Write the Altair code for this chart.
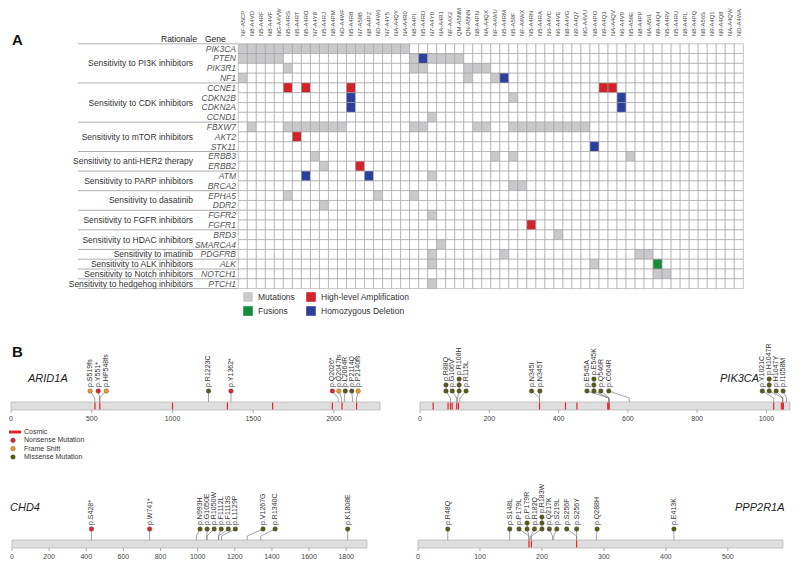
import altair as alt
import pandas as pd

FONT = "Liberation Sans"

# ---------------- Panel A data ----------------
samples = ["NF-A5CP", "N8-A4VD", "N5-A4RF", "N8-A4VF", "NG-A4VW", "N5-A4RS", "N5-A4RT", "N5-A4RO",
           "N7-A4Y8", "N5-A4RJ", "N8-A4PM", "ND-A4WF", "N5-A4R8", "N7-A59B", "N8-A4PZ", "ND-A4W6",
           "N7-A4Y5", "NA-A4QY", "NA-A4R0", "N8-A4PI", "N5-A4RD", "N7-A4Y0", "NA-A4R1", "NF-A4X2",
           "QM-A5NM", "QN-A5NN", "N8-A4PN", "NA-A4QX", "NF-A4WU", "N5-A4RM", "N5-A59F", "NF-A4WX",
           "N5-A4RN", "N5-A4RA", "N6-A4VC", "N6-A4VE", "N8-A4VG", "N9-A4Q7", "NG-A4VU", "N8-A4PO",
           "N9-A4Q3", "NA-A4QV", "N6-A4V9", "N5-A59E", "N8-A4PP", "NA-A5I1", "N9-A4Q4", "N5-A4RV",
           "N5-A4RU", "N8-A4PL", "N8-A4PQ", "N8-A56S", "N9-A4Q1", "N9-A4Q8", "NA-A4QW", "ND-A4WA"]

genes = ["PIK3CA", "PTEN", "PIK3R1", "NF1", "CCNE1", "CDKN2B", "CDKN2A", "CCND1", "FBXW7", "AKT2",
         "STK11", "ERBB3", "ERBB2", "ATM", "BRCA2", "EPHA5", "DDR2", "FGFR2", "FGFR1", "BRD3",
         "SMARCA4", "PDGFRB", "ALK", "NOTCH1", "PTCH1"]

rationale_labels = ["Sensitivity to PI3K inhibitors", "Sensitivity to CDK inhibitors",
                    "Sensitivity to mTOR inhibitors", "Sensitivity to anti-HER2 therapy",
                    "Sensitivity to PARP inhibitors", "Sensitivity to dasatinib",
                    "Sensitivity to FGFR inhibitors", "Sensitivity to HDAC inhibitors",
                    "Sensitivity to imatinib", "Sensitivity to  ALK inhibitors",
                    "Sensitivity to Notch inhibitors", "Sensitivity to hedgehog inhibitors"]
rationale_sizes = [4, 4, 3, 2, 2, 2, 2, 2, 1, 1, 1, 1]

# column indices (0-based into samples) per gene and alteration
mutation_cols = {
    "PIK3CA": [0, 1, 2, 3, 4, 5, 6, 7, 8, 9, 10, 11, 12, 13, 14, 15, 16, 17, 18],
    "PTEN": [0, 1, 2, 3, 4, 19, 21, 22, 23, 24],
    "PIK3R1": [5, 19, 20, 25, 26, 27],
    "NF1": [0, 25, 28],
    "CDKN2B": [30],
    "CCND1": [21],
    "FBXW7": [1, 5, 6, 7, 8, 9, 10, 11, 19, 20, 26, 27, 30, 31, 32, 33, 34, 35, 36, 37, 38],
    "ERBB3": [8, 28, 30, 43],
    "ERBB2": [9],
    "ATM": [21],
    "BRCA2": [30, 31],
    "EPHA5": [5, 15, 19],
    "DDR2": [9],
    "FGFR2": [21],
    "BRD3": [35],
    "SMARCA4": [22],
    "PDGFRB": [21, 29, 44, 45],
    "ALK": [21, 39],
    "NOTCH1": [46, 47],
    "PTCH1": [21],
}
amplification_cols = {"CCNE1": [5, 7, 12, 40, 41], "AKT2": [6], "ERBB2": [13], "FGFR1": [32]}
deletion_cols = {"PTEN": [20], "NF1": [29], "CDKN2B": [12, 42], "CDKN2A": [12, 42],
                 "STK11": [39], "ATM": [7, 14]}
fusion_cols = {"ALK": [46]}

alteration_types = ["None", "Mutations", "High-level Amplification", "Fusions", "Homozygous Deletion"]
alteration_colors = ["#ffffff", "#c9c9cb", "#d2232a", "#168a3d", "#2b3f9b"]
legend_names = ["Mutations", "High-level Amplification", "Fusions", "Homozygous Deletion"]
legend_col = [0, 1, 0, 1]
legend_row = [0, 0, 1, 1]

# ---------------- Panel B data ----------------
mut_types = ["Nonsense Mutation", "Frame Shift", "Missense Mutation"]
mut_colors = ["#d8282c", "#e39a2a", "#5a5a1e"]

arid1a_labels = ["p.S519fs", "p.Y551*", "p.HP548fs", "p.R1223C", "p.Y1362*", "p.Q2026*",
                 "p.Q2047fs", "p.L2064R", "p.P2114Q", "p.P2140fs"]
arid1a_pos = [519, 551, 548, 1223, 1362, 2026, 2047, 2064, 2114, 2140]
arid1a_disp = [490, 540, 590, 1223, 1362, 1990, 2030, 2070, 2110, 2150]
arid1a_type = ["Frame Shift", "Nonsense Mutation", "Frame Shift", "Missense Mutation",
               "Nonsense Mutation", "Nonsense Mutation", "Frame Shift", "Missense Mutation",
               "Missense Mutation", "Frame Shift"]
arid1a_count = [1, 1, 1, 1, 1, 1, 1, 1, 1, 1]
arid1a_cosmic = [520, 550, 1000, 1340, 1620, 1990, 2050, 2140]

pik3ca_labels = ["p.R88Q", "p.G106V", "p.R108H", "p.R115L", "p.N345I", "p.N345T", "p.E545A",
                 "p.E545K", "p.Q546R", "p.C604R", "p.Y1021C", "p.H1047R", "p.H1047Y", "p.I1058M"]
pik3ca_pos = [88, 106, 108, 115, 345, 345, 545, 545, 546, 604, 1021, 1047, 1047, 1058]
pik3ca_disp = [75, 93, 113, 133, 322, 346, 482, 502, 522, 545, 988, 1008, 1028, 1048]
pik3ca_type = ["Missense Mutation"] * 14
pik3ca_count = [2, 1, 3, 1, 1, 1, 1, 3, 1, 1, 1, 3, 1, 1]
pik3ca_cosmic = [38, 81, 88, 93, 106, 111, 345, 420, 453, 542, 545, 546, 1021, 1043, 1047, 1049]

chd4_labels = ["p.S428*", "p.W741*", "p.N993H", "p.G1050E", "p.R1050W", "p.F1112L",
               "p.F1113S", "p.L1129P", "p.V1267G", "p.R1340C", "p.K1808E"]
chd4_pos = [428, 741, 993, 1050, 1050, 1112, 1113, 1129, 1267, 1340, 1808]
chd4_disp = [428, 741, 1013, 1051, 1089, 1127, 1165, 1203, 1352, 1417, 1808]
chd4_type = ["Nonsense Mutation", "Nonsense Mutation"] + ["Missense Mutation"] * 9
chd4_count = [1] * 11
chd4_cosmic = []

ppp2r1a_labels = ["p.R48Q", "p.S148L", "p.P179L", "p.P179R", "p.R182Q", "p.R183W", "p.Q217K",
                  "p.S219L", "p.S256F", "p.S256Y", "p.Q288H", "p.E413K"]
ppp2r1a_pos = [48, 148, 179, 179, 182, 183, 217, 219, 256, 256, 288, 413]
ppp2r1a_disp = [48, 148, 163, 176, 188, 200, 212, 224, 240, 256, 289, 413]
ppp2r1a_type = ["Missense Mutation"] * 12
ppp2r1a_count = [1, 1, 1, 2, 1, 3, 1, 1, 1, 1, 1, 1]
ppp2r1a_cosmic = [179, 183, 256]

# ---------------- build panel A ----------------
OX, OY = 8, 8  # page margin -> chart coordinates
GX0, GX1 = 238.3 - OX, 743.3 - OX
GY0, GY1 = 43.8 - OY, 288.6 - OY

cells = []
for r, g in enumerate(genes):
    for c, s in enumerate(samples):
        t = "None"
        if c in mutation_cols.get(g, []):
            t = "Mutations"
        if c in amplification_cols.get(g, []):
            t = "High-level Amplification"
        if c in deletion_cols.get(g, []):
            t = "Homozygous Deletion"
        if c in fusion_cols.get(g, []):
            t = "Fusions"
        cells.append({"gene": g, "sample": s, "row": r, "col": c, "type": t})
cells_df = pd.DataFrame(cells)

xA = alt.Scale(domain=[0, len(samples)], range=[GX0, GX1], nice=False, zero=False)
yA = alt.Scale(domain=[0, len(genes)], range=[GY0, GY1], nice=False, zero=False)
fillA = alt.Scale(domain=alteration_types, range=alteration_colors)

grid = alt.Chart(cells_df).mark_rect(stroke="#a0a0a0", strokeWidth=0.6).transform_calculate(
    col2="datum.col + 1", row2="datum.row + 1"
).encode(
    x=alt.X("col:Q", scale=xA, axis=None),
    x2="col2:Q",
    y=alt.Y("row:Q", scale=yA, axis=None),
    y2="row2:Q",
    fill=alt.Fill("type:N", scale=fillA, legend=None),
)

samp_df = pd.DataFrame({"sample": samples, "col": list(range(len(samples)))})
samp_text = alt.Chart(samp_df).mark_text(angle=270, align="left", baseline="middle", fontSize=5.9,
                                         font=FONT, color="#444").transform_calculate(
    cx="datum.col + 0.5"
).encode(x=alt.X("cx:Q", scale=xA, axis=None), y=alt.value(36 - OY), text="sample:N")

gene_df = pd.DataFrame({"gene": genes, "row": list(range(len(genes)))})
gene_text = alt.Chart(gene_df).mark_text(align="right", baseline="middle", fontSize=8.5, font=FONT,
                                         fontStyle="italic", color="#555").transform_calculate(
    cy="datum.row + 0.5"
).encode(x=alt.value(236 - OX), y=alt.Y("cy:Q", scale=yA, axis=None), text="gene:N")

starts = []
acc = 0
for n in rationale_sizes:
    starts.append(acc)
    acc += n
rat_df = pd.DataFrame({"label": rationale_labels, "start": starts, "size": rationale_sizes})
rat_text = alt.Chart(rat_df).mark_text(align="right", baseline="middle", fontSize=8.5, font=FONT,
                                       color="#333").transform_calculate(
    cy="datum.start + datum.size / 2"
).encode(x=alt.value(193 - OX), y=alt.Y("cy:Q", scale=yA, axis=None), text="label:N")

sep_df = pd.DataFrame({"b": starts + [len(genes)]})
sep_rules = alt.Chart(sep_df).mark_rule(color="#9a9a9a", strokeWidth=0.8).encode(
    x=alt.value(78 - OX), x2=alt.value(238 - OX), y=alt.Y("b:Q", scale=yA, axis=None))

hdr_df = pd.DataFrame({"t": ["Rationale", "Gene"], "k": [0, 1]})
hdr_text = alt.Chart(hdr_df).mark_text(align="left", baseline="middle", fontSize=8.5, font=FONT,
                                       color="#222").encode(
    x=alt.X("k:Q", scale=alt.Scale(domain=[0, 1], range=[161 - OX, 205 - OX]), axis=None),
    y=alt.value(39 - OY), text="t:N")

leg_df = pd.DataFrame({"name": legend_names, "lc": legend_col, "lr": legend_row})
leg_x = alt.Scale(domain=[0, 1], range=[248 - OX, 311 - OX])
leg_y = alt.Scale(domain=[0, 1], range=[297 - OY, 311 - OY])
leg_sq = alt.Chart(leg_df).mark_square(size=92, opacity=1).encode(
    x=alt.X("lc:Q", scale=leg_x, axis=None), y=alt.Y("lr:Q", scale=leg_y, axis=None),
    color=alt.Color("name:N", scale=alt.Scale(domain=alteration_types, range=alteration_colors),
                    legend=None))
leg_tx = alt.Chart(leg_df).mark_text(align="left", baseline="middle", dx=10, fontSize=8.5, font=FONT,
                                     color="#333").encode(
    x=alt.X("lc:Q", scale=leg_x, axis=None), y=alt.Y("lr:Q", scale=leg_y, axis=None), text="name:N")

letters_df = pd.DataFrame({"t": ["A", "B"], "k": [0, 1]})
letters = alt.Chart(letters_df).mark_text(align="left", baseline="middle", fontSize=15, font=FONT,
                                          fontWeight="bold", color="#111").encode(
    x=alt.value(12 - OX),
    y=alt.Y("k:Q", scale=alt.Scale(domain=[0, 1], range=[40 - OY, 352 - OY]), axis=None),
    text="t:N")

# ---------------- build panel B ----------------
KNEE, DOT0, DOTSTEP, LABGAP = 4, 11, 6, 4


def lollipop(name, length, x0, x1, bar_top, ticks, labels, pos, disp, types, counts, cosmic,
             name_x, name_y, name_align):
    xs = alt.Scale(domain=[0, length], range=[x0 - OX, x1 - OX], nice=False, zero=False)
    ys = alt.Scale(domain=[0, 100], range=[bar_top - OY, bar_top - OY - 100], nice=False, zero=False)
    layers = []
    bar = alt.Chart(pd.DataFrame({"s": [0], "e": [length]})).transform_calculate(
        y0="0", y1="-8").mark_rect(fill="#dedede", stroke="#a8a8a8", strokeWidth=0.6).encode(
        x=alt.X("s:Q", scale=xs, axis=None), x2="e:Q",
        y=alt.Y("y0:Q", scale=ys, axis=None), y2="y1:Q")
    layers.append(bar)
    if cosmic:
        cos = alt.Chart(pd.DataFrame({"p": cosmic})).transform_calculate(
            y0="-0.6", y1="-7.4").mark_rule(color="#e0262b", strokeWidth=1.2).encode(
            x=alt.X("p:Q", scale=xs, axis=None),
            y=alt.Y("y0:Q", scale=ys, axis=None), y2="y1:Q")
        layers.append(cos)
    tk = pd.DataFrame({"t": ticks, "lab": [str(t) for t in ticks]})
    layers.append(alt.Chart(tk).transform_calculate(y0="-8", y1="-11").mark_rule(
        color="#777", strokeWidth=0.6).encode(
        x=alt.X("t:Q", scale=xs, axis=None), y=alt.Y("y0:Q", scale=ys, axis=None), y2="y1:Q"))
    layers.append(alt.Chart(tk).transform_calculate(y0="-17").mark_text(
        fontSize=7, font=FONT, color="#444", baseline="middle").encode(
        x=alt.X("t:Q", scale=xs, axis=None), y=alt.Y("y0:Q", scale=ys, axis=None), text="lab:N"))
    md = pd.DataFrame({"label": labels, "pos": pos, "disp": disp, "type": types, "count": counts})
    stem_v = alt.Chart(md).transform_calculate(y0="0", y1=str(KNEE)).mark_rule(
        color="#666", strokeWidth=0.6).encode(
        x=alt.X("pos:Q", scale=xs, axis=None), y=alt.Y("y0:Q", scale=ys, axis=None), y2="y1:Q")
    stem_d = alt.Chart(md).transform_calculate(y0=str(KNEE), y1=str(DOT0)).mark_rule(
        color="#666", strokeWidth=0.6).encode(
        x=alt.X("pos:Q", scale=xs, axis=None), x2="disp:Q",
        y=alt.Y("y0:Q", scale=ys, axis=None), y2="y1:Q")
    stem_s = alt.Chart(md).transform_calculate(
        y0=str(DOT0), y1=f"{DOT0} + (datum.count - 1) * {DOTSTEP}"
    ).mark_rule(color="#666", strokeWidth=0.6).encode(
        x=alt.X("disp:Q", scale=xs, axis=None), y=alt.Y("y0:Q", scale=ys, axis=None), y2="y1:Q")
    dots = alt.Chart(md).transform_calculate(
        seq="sequence(0, datum.count)"
    ).transform_flatten(["seq"]).transform_calculate(
        dy=f"{DOT0} + datum.seq * {DOTSTEP}"
    ).mark_circle(size=22, opacity=1, stroke="#333", strokeWidth=0.3).encode(
        x=alt.X("disp:Q", scale=xs, axis=None), y=alt.Y("dy:Q", scale=ys, axis=None),
        color=alt.Color("type:N", scale=alt.Scale(domain=mut_types, range=mut_colors), legend=None))
    labs = alt.Chart(md).transform_calculate(
        ly=f"{DOT0} + (datum.count - 1) * {DOTSTEP} + {LABGAP}"
    ).mark_text(angle=270, align="left", baseline="middle", fontSize=7, font=FONT, color="#333").encode(
        x=alt.X("disp:Q", scale=xs, axis=None), y=alt.Y("ly:Q", scale=ys, axis=None), text="label:N")
    nm = alt.Chart(pd.DataFrame({"g": [name]})).mark_text(
        align=name_align, baseline="middle", fontSize=11, font=FONT, fontStyle="italic", color="#222"
    ).encode(x=alt.value(name_x - OX), y=alt.value(name_y - OY), text="g:N")
    layers += [stem_v, stem_d, stem_s, dots, labs, nm]
    return layers


pB = []
pB += lollipop("ARID1A", 2285, 11, 380, 402, [0, 500, 1000, 1500, 2000], arid1a_labels, arid1a_pos,
               arid1a_disp, arid1a_type, arid1a_count, arid1a_cosmic, 28, 379, "left")
pB += lollipop("PIK3CA", 1068, 420, 790, 402, [0, 200, 400, 600, 800, 1000], pik3ca_labels, pik3ca_pos,
               pik3ca_disp, pik3ca_type, pik3ca_count, pik3ca_cosmic, 720, 379, "left")
pB += lollipop("CHD4", 1912, 12, 367, 540, [0, 200, 400, 600, 800, 1000, 1200, 1400, 1600, 1800],
               chd4_labels, chd4_pos, chd4_disp, chd4_type, chd4_count, chd4_cosmic, 10, 508, "left")
pB += lollipop("PPP2R1A", 589, 418, 783, 540, [0, 100, 200, 300, 400, 500], ppp2r1a_labels,
               ppp2r1a_pos, ppp2r1a_disp, ppp2r1a_type, ppp2r1a_count, ppp2r1a_cosmic, 735, 508, "left")

# mutation legend
mleg_df = pd.DataFrame({"name": ["Cosmic"] + mut_types, "k": [0, 1, 2, 3]})
mleg_y = alt.Scale(domain=[0, 3], range=[432 - OY, 457 - OY])
mleg_bar = alt.Chart(mleg_df).transform_filter("datum.k == 0").mark_rule(
    color="#e0262b", strokeWidth=3).encode(
    x=alt.value(9 - OX), x2=alt.value(21 - OX), y=alt.Y("k:Q", scale=mleg_y, axis=None))
mleg_dot = alt.Chart(mleg_df).transform_filter("datum.k > 0").mark_circle(
    size=22, opacity=1, stroke="#333", strokeWidth=0.3).encode(
    x=alt.value(13 - OX), y=alt.Y("k:Q", scale=mleg_y, axis=None),
    color=alt.Color("name:N", scale=alt.Scale(domain=mut_types, range=mut_colors), legend=None))
mleg_tx = alt.Chart(mleg_df).mark_text(align="left", baseline="middle", fontSize=7, font=FONT,
                                       color="#333").encode(
    x=alt.value(24 - OX), y=alt.Y("k:Q", scale=mleg_y, axis=None), text="name:N")

allLayers = [grid, samp_text, gene_text, rat_text, sep_rules, hdr_text, leg_sq, leg_tx, letters] + pB + [
    mleg_bar, mleg_dot, mleg_tx]

chart = alt.layer(*allLayers).resolve_scale(
    x="independent", y="independent", color="independent", fill="independent"
).properties(width=784, height=568, autosize=alt.AutoSizeParams(type="none"), padding=0).configure_view(
    stroke=None
)

chart.save("out.html", embed_options={"renderer": "svg", "actions": False})
